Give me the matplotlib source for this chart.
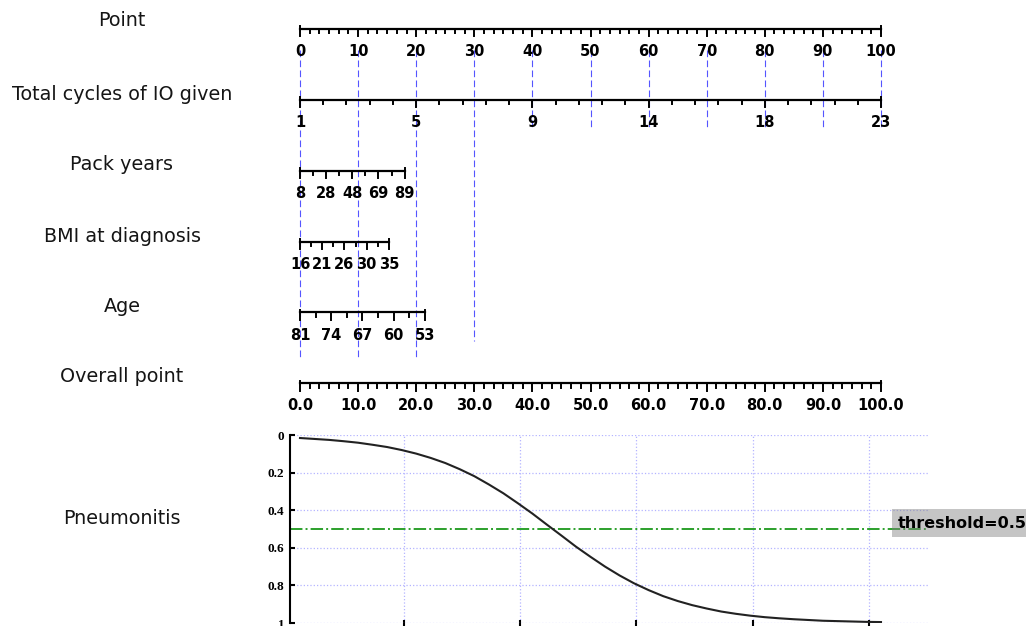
import matplotlib
matplotlib.use('Agg')
import matplotlib.pyplot as plt
import numpy as np

# ---------------- data ----------------
row_names = ['Point', 'Total cycles of IO given', 'Pack years',
             'BMI at diagnosis', 'Age', 'Overall point', 'Pneumonitis']
point_labels = ['0', '10', '20', '30', '40', '50', '60', '70', '80', '90', '100']
cycles_labels = ['1', '5', '9', '14', '18', '23']
pack_labels = ['8', '28', '48', '69', '89']
bmi_labels = ['16', '21', '26', '30', '35']
age_labels = ['81', '74', '67', '60', '53']
overall_labels = ['0.0', '10.0', '20.0', '30.0', '40.0', '50.0',
                  '60.0', '70.0', '80.0', '90.0', '100.0']
# points covered by each predictor scale
point_max = 100
cycles_max = 100
pack_max = 18.0
bmi_max = 15.3
age_max = 21.5
overall_max = 100
# reference dashed lines (points) and how far down they reach
guide_pts = [0, 10, 20, 30, 40, 50, 60, 70, 80, 90, 100]
guide_row = ['age', 'age', 'age', 'age_top', 'cyc', 'cyc', 'cyc', 'cyc', 'cyc', 'cyc', 'cyc']

# probability curve (total points -> probability)
curve_points = [0, 2.5, 5, 7.5, 10, 12.5, 15, 17.5, 20, 22.5, 25, 27.5, 30, 32.5, 35,
                37.5, 40, 42.5, 45, 47.5, 50, 52.5, 55, 57.5, 60, 62.5, 65, 67.5, 70,
                72.5, 75, 77.5, 80, 82.5, 85, 87.5, 90, 92.5, 95, 97.5, 100]
curve_prob = [0.016, 0.021, 0.026, 0.033, 0.041, 0.052, 0.064, 0.080, 0.099, 0.122,
              0.149, 0.182, 0.219, 0.263, 0.310, 0.363, 0.418, 0.477, 0.535, 0.594,
              0.648, 0.700, 0.747, 0.789, 0.825, 0.857, 0.883, 0.905, 0.923, 0.939,
              0.951, 0.961, 0.969, 0.975, 0.980, 0.984, 0.988, 0.990, 0.992, 0.994,
              0.995]
threshold = 0.5
prob_ticks = [0, 0.2, 0.4, 0.6, 0.8, 1.0]
prob_ticklabels = ['0', '0.2', '0.4', '0.6', '0.8', '1']
bottom_xticks = [17.9, 37.9, 57.9, 77.9, 97.9]

# ---------------- layout ----------------
W, H = 1026, 626
fig = plt.figure(figsize=(W / 100, H / 100), dpi=100)
ax = fig.add_axes([0, 0, 1, 1])
px = 5.81  # pixels per point
ax.set_xlim(-300 / px, (W - 300) / px)
ax.set_ylim(H, 0)
ax.axis('off')

label_font = dict(fontsize=10.5, fontweight='bold', ha='center', va='center',
                  family='DejaVu Sans')


def draw_scale(y, length, n_int, major_every, labels):
    xs = np.linspace(0, length, n_int + 1)
    ax.plot([0, length], [y, y], color='black', lw=1.6, solid_capstyle='projecting',
            zorder=3)
    for i, x in enumerate(xs):
        major = (i % major_every == 0)
        bottom = y + (7.5 if major else 4.5)
        top = y - 2.5 if i in (0, n_int) else y
        ax.plot([x, x], [top, bottom], color='black', lw=1.4, zorder=3)
    lx = xs[::major_every]
    for x, t in zip(lx, labels):
        ax.text(x, y + 23, t, **label_font, zorder=4)


rows_y = {'Point': 28.5, 'cyc': 99.5, 'pack': 170.5, 'bmi': 241.5, 'age': 312, 'overall': 383}
name_y = [21, 94, 164, 236, 306, 377, 519]

for name, y in zip(row_names, name_y):
    ax.text(-178 / px, y, name, fontsize=13.8, ha='center', va='center', color='#151515')

draw_scale(rows_y['Point'], point_max, 60, 6, point_labels)
draw_scale(rows_y['cyc'], cycles_max, 25, 5, cycles_labels)
draw_scale(rows_y['pack'], pack_max, 8, 2, pack_labels)
draw_scale(rows_y['bmi'], bmi_max, 8, 2, bmi_labels)
draw_scale(rows_y['age'], age_max, 8, 2, age_labels)
draw_scale(rows_y['overall'], overall_max, 60, 6, overall_labels)

ends = {'cyc': 130, 'age': 357, 'age_top': 341}
for p, r in zip(guide_pts, guide_row):
    ax.plot([p, p], [50, ends[r]], color='#2a2aff', lw=0.8, ls=(0, (6, 3)),
            alpha=0.8, zorder=2)

# ---------------- probability panel ----------------
left, right, top, bot = 290, 928, 435, 623
bx = fig.add_axes([left / W, (H - bot) / H, (right - left) / W, (bot - top) / H])
bx.set_xlim((left - 300) / px, (right - 300) / px)
bx.set_ylim(1, 0)
bx.plot(curve_points, curve_prob, color='#222222', lw=1.5, zorder=3,
        solid_joinstyle='round')
bx.axhline(threshold, color='#2ca02c', lw=1.4, ls='-.', zorder=2)
bx.set_yticks(prob_ticks)
bx.set_yticklabels(prob_ticklabels, family='Liberation Serif', fontweight='bold',
                   fontsize=9.5)
bx.set_xticks(bottom_xticks)
bx.set_xticklabels([])
bx.tick_params(axis='y', direction='in', length=3.5, width=1.5, pad=4)
bx.tick_params(axis='x', direction='inout', length=4, width=1.5)
bx.grid(True, color='#b4b4ff', ls=':', lw=0.9)
for s in ['top', 'right', 'bottom']:
    bx.spines[s].set_visible(False)
bx.spines['left'].set_linewidth(1.5)
bx.text((898 - 300) / px, 0.47, 'threshold=0.5', fontsize=11.5, fontweight='bold',
        ha='left', va='center', clip_on=False, zorder=5,
        bbox=dict(boxstyle='square,pad=0.4', facecolor='gray', alpha=0.45,
                  edgecolor='none'))

fig.savefig('out.png', dpi=100)
